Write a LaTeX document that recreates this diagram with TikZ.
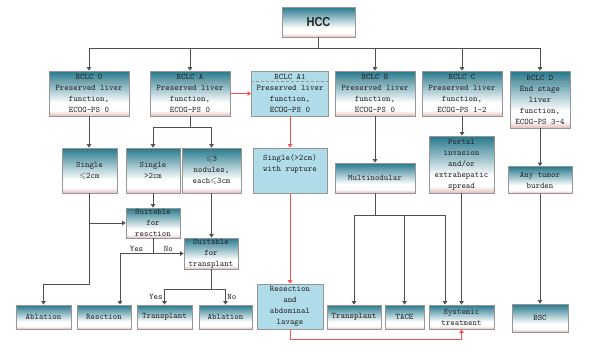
\documentclass[tikz,border=0pt]{standalone}
\usepackage{amssymb}
\usepackage{fontspec}
\newfontfamily\hccfont{Liberation Sans}[FakeStretch=0.85]
\usetikzlibrary{arrows.meta}

\definecolor{tealtop}{RGB}{38,120,140}
\definecolor{pinkbot}{RGB}{228,188,188}
\definecolor{paleblue}{RGB}{176,219,232}
\definecolor{edgegray}{RGB}{150,150,150}
\definecolor{linegray}{RGB}{80,80,80}
\definecolor{redline}{RGB}{255,80,80}
\pgfdeclareverticalshading{tealfade}{100bp}{color(0bp)=(pinkbot); color(25bp)=(pinkbot); color(31bp)=(white); color(40bp)=(white); color(75bp)=(tealtop); color(100bp)=(tealtop)}

\begin{document}
\begin{tikzpicture}[x=1pt, y=-1pt,
  base/.style={draw=edgegray, line width=0.8pt, inner sep=0pt, align=center, text=black!85, font=\ttfamily\fontsize{8.5}{11}\selectfont},
  box/.style={base, shading=tealfade},
  pale/.style={base, fill=paleblue},
  stage/.style={box, minimum width=80pt, minimum height=45pt},
  leaf/.style={box, minimum height=24pt},
  sep/.style={draw=edgegray, densely dashed, line width=0.5pt},
  arr/.style={draw=linegray, line width=0.9pt, -{Triangle[width=4.5pt,length=3.5pt]}},
  redarr/.style={draw=redline, line width=0.9pt, -{Triangle[width=4.5pt,length=3.5pt]}},
  lbl/.style={inner sep=1.5pt, text=black!85, font=\ttfamily\fontsize{8.5}{10}\selectfont}]
  \useasboundingbox (0,0) rectangle (600,351);

  % top and stages
  \node[box, minimum width=73pt, minimum height=30pt, font=\hccfont\bfseries\fontsize{13}{14}\selectfont] (hcc) at (318.5,22) {HCC};
  \node[stage] (b0) at (89,93.5) {BCLC 0\\Preserved liver\\function,\\ECOG-PS 0};
  \node[stage] (bA) at (190,93.5) {BCLC A\\Preserved liver\\function,\\ECOG-PS 0};
  \node[pale, minimum width=77pt, minimum height=45pt] (bA1) at (290,93.5) {BCLC A1\\Preserved liver\\function,\\ECOG-PS 0};
  \node[stage] (bB) at (375,93.5) {BCLC B\\Preserved liver\\function,\\ECOG-PS 0};
  \node[stage] (bC) at (462,93.5) {BCLC C\\Preserved liver\\function,\\ECOG-PS 1-2};
  \node[stage, minimum width=60pt, minimum height=57pt] (bD) at (540,99.5) {BCLC D\\End stage\\liver\\function,\\ECOG-PS 3-4};
  \foreach \n in {b0,bA,bA1,bB,bC,bD}
    \draw[sep] ([yshift=-11pt]\n.north west) -- ([yshift=-11pt]\n.north east);

  % tumour
  \node[box, minimum width=55pt, minimum height=45pt] (s1) at (89.5,170.5) {Single\\$\leqslant$2cm};
  \node[box, minimum width=54pt, minimum height=45pt] (s2) at (153,170.5) {Single\\>2cm};
  \node[box, minimum width=59pt, minimum height=45pt] (s3) at (211.5,170.5) {$\leqslant$3\\nodules,\\each$\leqslant$3cm};
  \node[pale, minimum width=74pt, minimum height=45pt] (s4) at (290,170.5) {Single(>2cm)\\with rupture\\[4pt]};
  \node[box, minimum width=80pt, minimum height=30pt] (multi) at (375,178) {Multinodular};
  \node[box, minimum width=65pt, minimum height=57pt] (portal) at (461.5,164.5) {Portal\\invasion\\and/or\\extrahepatic\\spread};
  \node[box, minimum width=64pt, minimum height=27pt] (anyt) at (540,180) {Any tumor\\burden};
  \node[box, minimum width=54pt, minimum height=30pt] (resct) at (153,223) {Suitable\\for\\resction};
  \node[box, minimum width=54pt, minimum height=31pt] (transp) at (211,253.5) {Suitable\\for\\transplant};

  % treatment
  \node[leaf, minimum width=55pt] (abl1) at (43.5,317) {Ablation};
  \node[leaf, minimum width=54pt] (resc) at (104,317) {Resction};
  \node[leaf, minimum width=55pt] (tra1) at (164.5,317) {Transplant};
  \node[leaf, minimum width=53pt] (abl2) at (225.5,317) {Ablation};
  \node[pale, minimum width=66pt, minimum height=45pt] (lav) at (290,306.5) {Resection\\and\\abdominal\\lavage};
  \node[leaf, minimum width=54pt] (tra2) at (354,317) {Transplant};
  \node[leaf, minimum width=39pt] (tace) at (404.5,317) {TACE};
  \node[leaf, minimum width=65pt] (syst) at (461.5,317) {Systemic\\treatment};
  \node[leaf, minimum width=56pt, minimum height=28pt] (bsc) at (540,318) {BSC};

  % connectors
  \foreach \n in {b0,bA,bB,bC,bD}
    \draw[arr] (hcc.south) -- ++(0,11) -| (\n.north);
  \draw[redarr] (bA.east) -- (bA1.west);
  \draw[arr] (bA.south) -- ++(0,11) -| (s2.north);
  \draw[arr] (bA.south) -- ++(0,11) -| (s3.north);
  \draw[arr] (b0.south) -- (b0.south |- s1.north);
  \draw[arr] (bB) -- (multi);
  \draw[arr] (bC.south) -- (bC.south |- portal.north);
  \draw[arr] (bD) -- (anyt);
  \draw[redarr] (bA1) -- (s4);
  \draw[redarr] (s4) -- (lav);
  \draw[arr] (s2) -- (resct);
  \draw[arr] (s1.south) |- (resct.west);
  \draw[arr] (s1.south) -- ++(0,91) -| (abl1.north);
  \draw[arr] (resct.south) |- node[lbl, above, pos=0.75] {No} (transp.west);
  \draw[arr] (resct.south) -- ++(0,15.5) -| node[lbl, above, pos=0.25] {Yes} ([xshift=16pt]resc.north);
  \draw[arr] (s3.south) -- (s3.south |- transp.north);
  \draw[arr] (transp.south) -- ++(0,20) -| node[lbl, left, pos=0.75] {Yes} (tra1.north);
  \draw[arr] (transp.south) -- ++(0,20) -| node[lbl, right, pos=0.75] {No} (abl2.north);
  \draw[arr] (multi.south) -- ++(0,22) -| (tra2.north);
  \draw[arr] (multi.south) -- ++(0,22) -| (tace.north);
  \draw[arr] (multi.south) -- ++(0,22) -| ([xshift=-16.5pt]syst.north);
  \draw[arr] (portal) -- (syst);
  \draw[arr] (anyt) -- (bsc);
  \draw[redarr] (lav.south) -- ++(0,10) -| (syst.south);
\end{tikzpicture}
\end{document}
